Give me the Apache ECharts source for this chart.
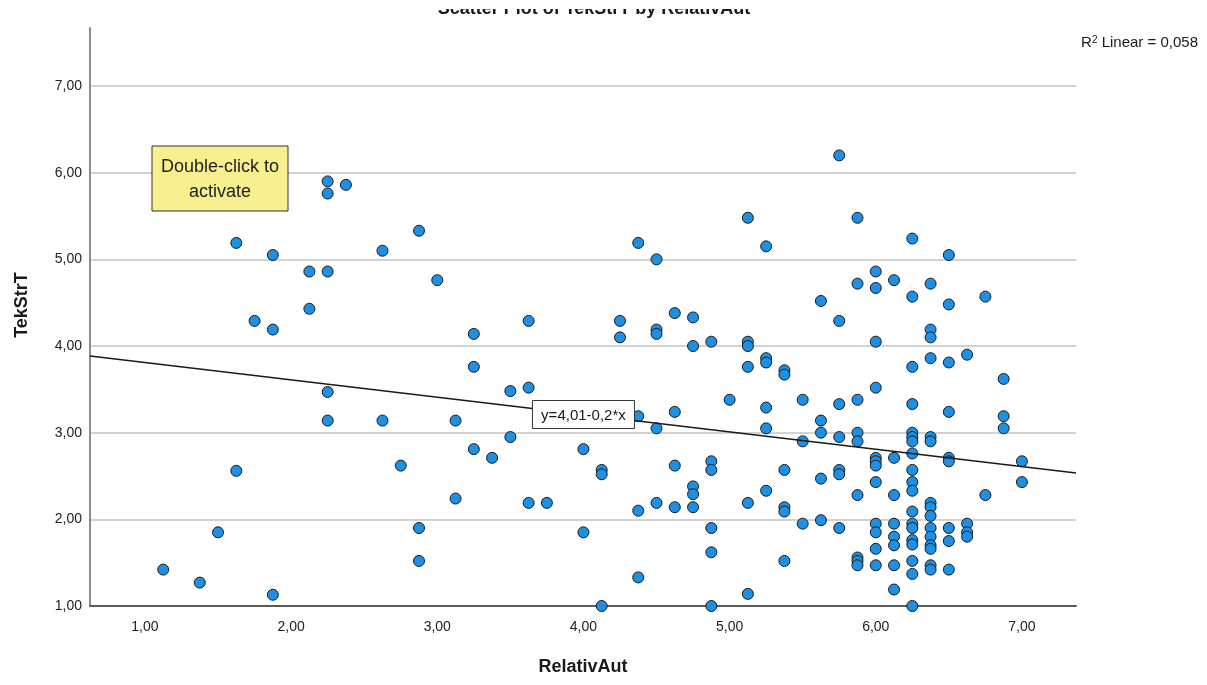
<!DOCTYPE html>
<html>
<head>
<meta charset="utf-8">
<script src="https://cdn.jsdelivr.net/npm/echarts@6/dist/echarts.min.js"></script>
<style>
html,body{margin:0;padding:0;background:#fff;}
#chart{width:1207px;height:685px;}
</style>
</head>
<body>
<div id="chart"></div>
<script>
// ---- data ----
const relativAut = [
  1.125,1.375,1.5,1.625,1.625,1.75,1.875,1.875,1.875,2.125,2.125,2.25,2.25,2.25,2.375,2.25,2.25,2.625,2.625,2.75,2.875,2.875,2.875,3.0,
  3.125,3.125,3.25,3.25,3.25,3.375,3.5,3.5,3.625,3.625,3.625,3.75,4.0,4.0,4.125,4.125,4.125,4.25,4.25,
  4.375,4.375,4.375,4.375,4.5,4.5,4.5,4.5,4.5,4.625,4.625,4.625,4.625,4.75,4.75,4.75,4.75,4.75,
  4.875,4.875,4.875,4.875,4.875,4.875,5.0,5.125,5.125,5.125,5.125,5.125,5.125,
  5.25,5.25,5.25,5.25,5.25,5.25,
  5.375,5.375,5.375,5.375,5.375,5.375,
  5.5,5.5,5.5,
  5.625,5.625,5.625,5.625,5.625,
  5.75,5.75,5.75,5.75,5.75,5.75,5.75,
  5.875,5.875,5.875,5.875,5.875,5.875,5.875,5.875,5.875,
  6.0,6.0,6.0,6.0,6.0,6.0,6.0,6.0,6.0,6.0,6.0,6.0,
  6.125,6.125,6.125,6.125,6.125,6.125,6.125,6.125,
  6.25,6.25,6.25,6.25,6.25,6.25,6.25,6.25,6.25,6.25,6.25,6.25,6.25,6.25,6.25,6.25,6.25,6.25,6.25,
  6.375,6.375,6.375,6.375,6.375,6.375,6.375,6.375,6.375,6.375,6.375,6.375,6.375,6.375,6.375,
  6.5,6.5,6.5,6.5,6.5,6.5,6.5,6.5,6.5,
  6.625,6.625,6.625,6.625,
  6.75,6.75,
  6.875,6.875,6.875,
  7.0,7.0
];
const tekStrT = [
  1.42,1.27,1.85,2.56,5.19,4.29,4.19,5.05,1.13,4.86,4.43,4.86,5.90,5.76,5.86,3.47,3.14,3.14,5.10,2.62,5.33,1.90,1.52,4.76,
  3.14,2.24,4.14,3.76,2.81,2.71,3.48,2.95,4.29,3.52,2.19,2.19,2.81,1.85,2.57,2.52,1.0,4.29,4.10,
  5.19,3.19,2.10,1.33,5.0,4.19,4.14,3.05,2.19,4.38,3.24,2.62,2.14,4.33,4.0,2.38,2.29,2.14,
  4.05,2.67,2.57,1.90,1.62,1.0,3.38,5.48,4.05,4.0,3.76,2.19,1.14,
  5.15,3.86,3.81,3.29,3.05,2.33,
  3.72,3.67,2.57,2.14,2.09,1.52,
  3.38,2.90,1.95,
  4.52,3.14,3.0,2.47,1.99,
  6.20,4.29,3.33,2.95,2.57,2.52,1.90,
  5.48,4.72,3.38,3.0,2.90,2.28,1.56,1.52,1.47,
  4.86,4.67,4.05,3.52,2.71,2.67,2.62,2.43,1.95,1.85,1.66,1.47,
  4.76,2.71,2.28,1.95,1.80,1.70,1.47,1.19,
  5.24,4.57,3.76,3.33,3.0,2.95,2.90,2.76,2.57,2.43,2.33,2.09,1.95,1.90,1.76,1.71,1.52,1.37,1.0,
  4.72,4.19,4.10,3.86,2.95,2.90,2.19,2.14,2.04,1.90,1.80,1.70,1.66,1.47,1.42,
  5.05,4.48,3.81,3.24,2.71,2.67,1.90,1.75,1.42,
  3.90,1.95,1.85,1.80,
  4.57,2.28,
  3.62,3.19,3.05,
  2.67,2.43
];
const xTicks = [1, 2, 3, 4, 5, 6, 7];
const yTicks = [1, 2, 3, 4, 5, 6, 7];
const fitIntercept = 4.01;
const fitSlope = -0.2;
const r2Linear = '0,058';
const chartTitle = 'Scatter Plot of TekStrT by RelativAut';
const xName = 'RelativAut';
const yName = 'TekStrT';
const xMin = 0.624, xMax = 7.37, yMin = 1, yMax = 7.67;

// ---- build ----
const points = relativAut.map((x, i) => [x, tekStrT[i]]);
const fitLine = [[xMin, fitIntercept + fitSlope * xMin], [xMax, fitIntercept + fitSlope * xMax]];
const fmt = v => v.toFixed(2).replace('.', ',');
const FONT = 'Liberation Sans, Arial, sans-serif';

const chart = echarts.init(document.getElementById('chart'), null, {renderer: 'canvas'});
const option = {
  backgroundColor: '#ffffff',
  animation: false,
  grid: {left: 90, right: 131, top: 28, bottom: 79, containLabel: false},
  xAxis: {
    type: 'value', min: xMin, max: xMax,
    name: xName, nameLocation: 'middle', nameGap: 52,
    nameTextStyle: {fontFamily: FONT, fontSize: 18, fontWeight: 'bold', color: '#1a1a1a'},
    axisLine: {show: true, onZero: false, lineStyle: {color: '#5a5a5a', width: 2}},
    axisTick: {show: false, customValues: xTicks},
    axisLabel: {customValues: xTicks, formatter: fmt, margin: 14, fontFamily: FONT, fontSize: 14, color: '#222'},
    splitLine: {show: false}
  },
  yAxis: {
    type: 'value', min: yMin, max: yMax,
    name: yName, nameLocation: 'middle', nameGap: 59, nameRotate: 90,
    nameTextStyle: {fontFamily: FONT, fontSize: 18, fontWeight: 'bold', color: '#1a1a1a', padding: [0, 0, 0, 24]},
    axisLine: {show: true, onZero: false, lineStyle: {color: '#8c8c8c', width: 2}},
    axisTick: {show: false, customValues: yTicks},
    axisLabel: {customValues: yTicks, formatter: fmt, margin: 8, fontFamily: FONT, fontSize: 14, color: '#222'},
    splitLine: {show: true, lineStyle: {color: '#d2d2d2', width: 2}}
  },
  series: [
    {
      type: 'scatter', data: points, symbol: 'circle', symbolSize: 11, z: 2,
      itemStyle: {color: '#1e8fe3', borderColor: '#1b1b1b', borderWidth: 1, opacity: 1},
      emphasis: {disabled: true}
    },
    {
      type: 'line', data: fitLine, showSymbol: false, symbol: 'none', z: 3, silent: true,
      lineStyle: {color: '#1a1a1a', width: 1.5}
    }
  ]
};
chart.setOption(option);

// annotations (equation label centred on the fit line at x = 4)
const lx = 4.0;
const p = chart.convertToPixel({gridIndex: 0}, [lx, fitIntercept + fitSlope * lx]);
chart.setOption({
  graphic: {
    elements: [
      {
        type: 'text', id: 'title', x: 594, y: 18, z: 10,
        style: {text: chartTitle, font: 'bold 18px ' + FONT, fill: '#1a1a1a',
                align: 'center', verticalAlign: 'bottom'}
      },
      {
        type: 'rect', id: 'titleCover', x: 0, y: 0, z: 11,
        shape: {x: 0, y: 0, width: 1207, height: 9},
        style: {fill: '#ffffff', stroke: null}
      },
      {
        type: 'text', id: 'r2', x: 1198, y: 43, z: 10,
        style: {
          text: '{a|R}{s|2}{a| Linear = ' + r2Linear + '}',
          align: 'right', verticalAlign: 'middle',
          rich: {
            a: {fontFamily: FONT, fontSize: 15, fill: '#1a1a1a', verticalAlign: 'bottom'},
            s: {fontFamily: FONT, fontSize: 10, fill: '#1a1a1a', verticalAlign: 'top'}
          }
        }
      },
      {
        type: 'rect', id: 'noteBox', x: 152, y: 146, z: 20,
        shape: {x: 0, y: 0, width: 136, height: 65},
        style: {fill: '#f8f08e', stroke: '#333333', lineWidth: 1}
      },
      {
        type: 'text', id: 'noteText', x: 220, y: 180, z: 21,
        style: {text: 'Double-click to\nactivate', font: '18px ' + FONT, fill: '#222',
                align: 'center', verticalAlign: 'middle', lineHeight: 25}
      },
      {
        type: 'rect', id: 'eqBox', x: p[0], y: p[1], z: 20,
        shape: {x: -51, y: -14, width: 102, height: 28},
        style: {fill: '#ffffff', stroke: '#333333', lineWidth: 1}
      },
      {
        type: 'text', id: 'eqText', x: p[0], y: p[1] + 1, z: 21,
        style: {text: 'y=4,01-0,2*x', font: '15px ' + FONT, fill: '#1a1a1a', align: 'center', verticalAlign: 'middle'}
      }
    ]
  }
});
</script>
</body>
</html>
